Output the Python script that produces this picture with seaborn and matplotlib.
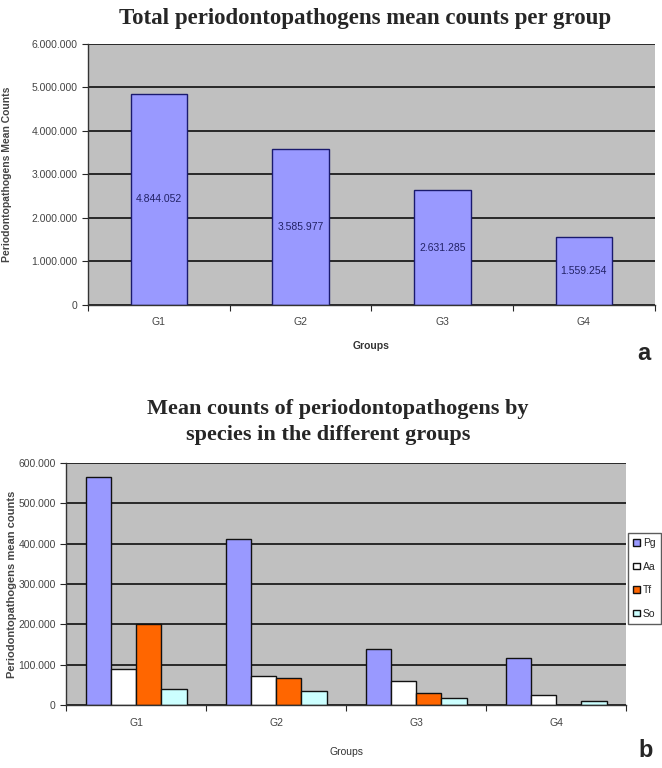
import matplotlib
matplotlib.use("Agg")
import matplotlib.pyplot as plt
import seaborn as sns
import pandas as pd
import numpy as np
from matplotlib.ticker import FuncFormatter, FixedLocator

# data
groups = ["G1", "G2", "G3", "G4"]
total_counts = [4844052, 3585977, 2631285, 1559254]

species = ["Pg", "Aa", "Tf", "So"]
pg_counts = [565000, 412000, 138000, 116000]
aa_counts = [90000, 71000, 60000, 26000]
tf_counts = [200000, 68000, 31000, 0]
so_counts = [39000, 35000, 18000, 10000]

species_colors = ["#9999FF", "#FFFFFF", "#FF6600", "#CCFFFF"]

sns.set_style("white")
plt.rcParams["font.family"] = ["Liberation Sans", "DejaVu Sans"]


def dot_thousands(v, pos=None):
    return f"{int(round(v)):,}".replace(",", ".")


def excel_axes(ax, ymax, step):
    ax.set_facecolor("#C0C0C0")
    ax.set_ylim(0, ymax)
    ax.set_xlim(-0.5, len(groups) - 0.5)
    ax.yaxis.set_major_locator(FixedLocator(np.arange(0, ymax + 1, step)))
    ax.yaxis.set_major_formatter(FuncFormatter(dot_thousands))
    ax.grid(axis="y", color="black", linewidth=1.1)
    ax.set_axisbelow(True)
    for s in ["top", "right"]:
        ax.spines[s].set_visible(False)
    for s in ["left", "bottom"]:
        ax.spines[s].set_color("#333333")
        ax.spines[s].set_linewidth(1.0)
    ax.tick_params(axis="y", length=4, width=0.8, direction="out",
                   labelsize=7.5, labelcolor="#444444", left=True)
    ax.tick_params(axis="x", which="major", length=0, labelsize=7.5,
                   labelcolor="#444444", pad=9)
    ax.xaxis.set_minor_locator(FixedLocator(np.arange(-0.5, len(groups), 1.0)))
    ax.tick_params(axis="x", which="minor", length=4, width=0.8,
                   direction="out", bottom=True)


fig = plt.figure(figsize=(6.62, 7.68), dpi=100)

# ---- panel a ----
ax1 = fig.add_axes([0.133, 0.603, 0.856, 0.340])
df_total = pd.DataFrame({"group": groups, "count": total_counts})
sns.barplot(data=df_total, x="group", y="count", color="#9999FF",
            saturation=1, width=0.4, edgecolor="#1a1a6e", linewidth=1.0,
            ax=ax1)
excel_axes(ax1, 6000000, 1000000)
ax1.bar_label(ax1.containers[0], labels=[dot_thousands(v) for v in total_counts],
              label_type="center", fontsize=7.5, color="#222266")
ax1.set_xlabel("Groups", fontsize=7.5, fontweight="bold", color="#333333",
               labelpad=10)
ax1.set_ylabel("Periodontopathogens Mean Counts", fontsize=7.5,
               fontweight="bold", color="#444444", labelpad=6)
ax1.yaxis.set_label_coords(-0.135, 0.5)
fig.text(0.552, 0.976, "Total periodontopathogens mean counts per group",
         ha="center", va="center", fontsize=16.5, fontweight="bold",
         family="Liberation Serif")
fig.text(0.972, 0.540, "a", ha="center", va="center", fontsize=17,
         fontweight="bold")

# ---- panel b ----
ax2 = fig.add_axes([0.100, 0.082, 0.846, 0.315])
df_species = pd.DataFrame({
    "group": groups * 4,
    "species": np.repeat(species, 4),
    "count": pg_counts + aa_counts + tf_counts + so_counts,
})
sns.barplot(data=df_species, x="group", y="count", hue="species",
            hue_order=species, palette=species_colors, saturation=1,
            width=0.72, edgecolor="#111111", linewidth=1.0, ax=ax2)
excel_axes(ax2, 600000, 100000)
ax2.set_xlabel("Groups", fontsize=7.5, color="#333333", labelpad=14)
ax2.set_ylabel("Periodontopathogens mean counts", fontsize=8,
               fontweight="bold", color="#444444")
ax2.yaxis.set_label_coords(-0.088, 0.5)
handles, labels = ax2.get_legend_handles_labels()
ax2.legend(handles, labels, loc="center left",
           bbox_to_anchor=(0.949, 0.247), bbox_transform=fig.transFigure,
           frameon=True, fancybox=False, edgecolor="#333333",
           fontsize=7.5, handlelength=0.6, handleheight=0.6,
           handletextpad=0.3, labelspacing=1.3, borderpad=0.5,
           borderaxespad=0)
fig.text(0.51, 0.468, "Mean counts of periodontopathogens by", ha="center",
         va="center", fontsize=16, fontweight="bold", family="Liberation Serif")
fig.text(0.495, 0.433, "species in the different groups", ha="center",
         va="center", fontsize=16, fontweight="bold", family="Liberation Serif")
fig.text(0.975, 0.023, "b", ha="center", va="center", fontsize=17,
         fontweight="bold")

fig.savefig("out.png", dpi=100, facecolor="white")
